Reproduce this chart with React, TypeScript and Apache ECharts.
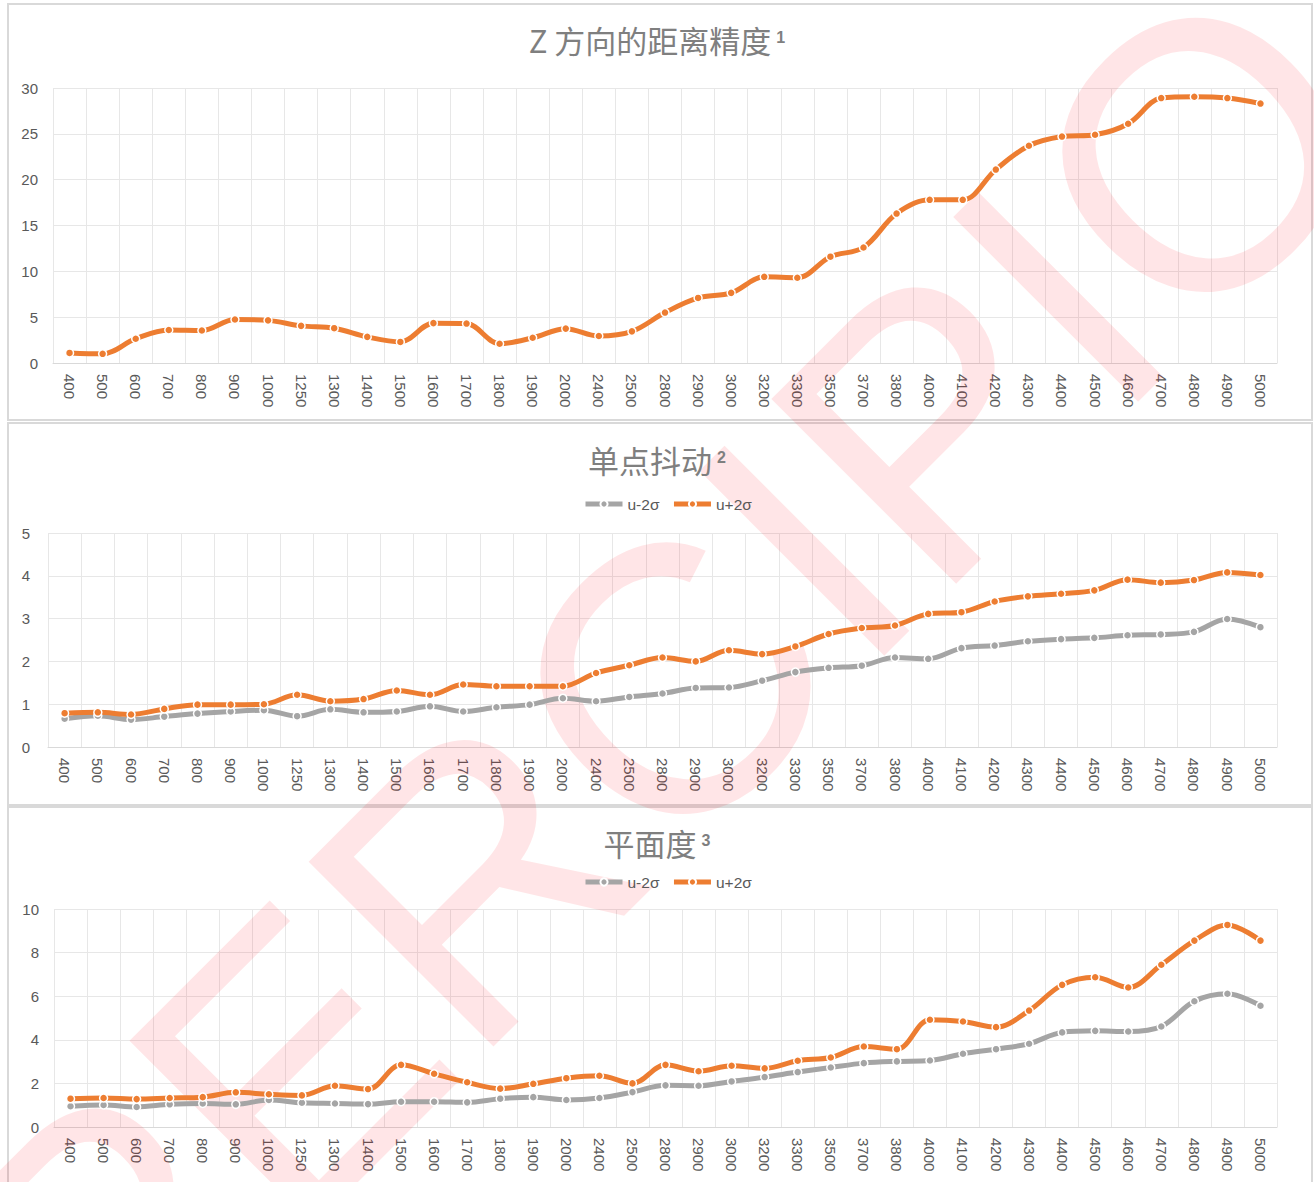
import React, { useEffect, useRef } from 'react';
import * as echarts from 'echarts';

const categories = ['400','500','600','700','800','900','1000','1250','1300','1400','1500','1600','1700','1800','1900','2000','2400','2500','2800','2900','3000','3200','3300','3500','3700','3800','4000','4100','4200','4300','4400','4500','4600','4700','4800','4900','5000'];

const zPrecision = [1.1,1.0,2.65,3.6,3.55,4.75,4.65,4.05,3.8,2.85,2.3,4.35,4.3,2.1,2.75,3.75,2.95,3.45,5.5,7.1,7.65,9.4,9.3,11.6,12.6,16.3,17.8,17.8,21.1,23.7,24.7,24.9,26.1,28.9,29.05,28.9,28.3];

const jitterLow = [0.66,0.73,0.64,0.71,0.78,0.83,0.86,0.72,0.88,0.81,0.83,0.95,0.83,0.93,0.99,1.14,1.07,1.17,1.25,1.38,1.39,1.55,1.75,1.85,1.9,2.09,2.06,2.31,2.37,2.47,2.52,2.55,2.61,2.63,2.69,2.99,2.8];
const jitterHigh = [0.79,0.81,0.76,0.89,0.99,0.99,1.0,1.22,1.07,1.12,1.32,1.22,1.46,1.42,1.42,1.42,1.73,1.91,2.09,2.0,2.26,2.17,2.35,2.64,2.78,2.84,3.11,3.15,3.4,3.52,3.58,3.66,3.91,3.84,3.9,4.08,4.02];

const flatLow = [0.95,1.01,0.92,1.04,1.08,1.04,1.24,1.11,1.08,1.05,1.16,1.16,1.13,1.3,1.37,1.24,1.33,1.6,1.91,1.89,2.09,2.29,2.52,2.73,2.93,3.01,3.05,3.36,3.57,3.82,4.34,4.41,4.38,4.61,5.77,6.11,5.56];
const flatHigh = [1.3,1.33,1.28,1.33,1.37,1.59,1.5,1.45,1.89,1.74,2.85,2.44,2.05,1.76,1.98,2.24,2.35,2.0,2.85,2.56,2.81,2.69,3.04,3.19,3.69,3.57,4.92,4.84,4.58,5.34,6.52,6.87,6.4,7.44,8.55,9.27,8.55];

const titles = ['Z 方向的距离精度', '单点抖动', '平面度'];
const titleNotes = ['1', '2', '3'];
const seriesNames = ['u-2σ', 'u+2σ'];
const yMax = [30, 5, 10];
const yStep = [5, 1, 2];
const watermark = 'PERCIPIO';

const ORANGE = '#ED7D31';
const GRAY = '#A5A5A5';
const GRID = '#e7e7e7';
const LABEL = '#595959';
const TITLE = '#7f7f7f';
const FONT = 'Liberation Sans';

export default function App() {
  const ref = useRef<HTMLDivElement>(null);
  useEffect(() => {
    const chart = echarts.init(ref.current!, null, { renderer: 'svg' });

    const grids = [
      { left: 53, top: 88, width: 1224, height: 275 },
      { left: 48, top: 533, width: 1229, height: 214 },
      { left: 54, top: 909, width: 1223, height: 218 },
    ];
    const titleTops = [20, 440, 823];
    const legendTops = [0, 491, 869];

    const xAxis = grids.map((_, i) => ({
      type: 'category',
      gridIndex: i,
      data: categories,
      boundaryGap: true,
      axisLine: { show: true, lineStyle: { color: '#d9d9d9', width: 1 } },
      axisTick: { show: false },
      splitLine: { show: true, interval: 0, lineStyle: { color: GRID, width: 1 } },
      axisLabel: { interval: 0, rotate: -90, margin: 11, color: LABEL, fontSize: 15, fontFamily: FONT },
    }));
    const yAxis = grids.map((_, i) => ({
      type: 'value',
      gridIndex: i,
      min: 0,
      max: yMax[i],
      interval: yStep[i],
      axisLine: { show: false },
      axisTick: { show: false },
      splitLine: { show: true, lineStyle: { color: GRID, width: 1 } },
      axisLabel: { color: LABEL, fontSize: 15, fontFamily: FONT, margin: i === 1 ? 18 : 15 },
    }));

    const mk = (name: string, data: number[], idx: number, color: string) => ({
      type: 'line',
      name,
      xAxisIndex: idx,
      yAxisIndex: idx,
      data,
      smooth: 0.35,
      symbol: 'circle',
      symbolSize: 8,
      lineStyle: { width: 5, color },
      itemStyle: { color, borderColor: '#ffffff', borderWidth: 1.5 },
      z: 3,
    });

    const series = [
      mk(seriesNames[1], zPrecision, 0, ORANGE),
      mk(seriesNames[0], jitterLow, 1, GRAY),
      mk(seriesNames[1], jitterHigh, 1, ORANGE),
      mk(seriesNames[0], flatLow, 2, GRAY),
      mk(seriesNames[1], flatHigh, 2, ORANGE),
    ];

    const title = titles.map((t, i) => ({
      text: `{a|${t}}{b|${titleNotes[i]}}`,
      left: 'center',
      top: titleTops[i],
      padding: 0,
      textStyle: {
        fontWeight: 'normal',
        rich: {
          a: { fontSize: 31, color: TITLE, fontFamily: 'Noto Sans CJK SC', fontWeight: 'normal', lineHeight: 38 },
          b: { fontSize: 16, color: TITLE, fontFamily: FONT, fontWeight: 'bold', verticalAlign: 'top', padding: [9, 0, 0, 5] },
        },
      },
    }));

    const legend = [1, 2].map((i) => ({
      top: legendTops[i],
      left: 578,
      data: seriesNames,
      itemWidth: 37,
      itemHeight: 9,
      itemGap: 12,
      lineStyle: { width: 5 },
      textStyle: { fontSize: 15.5, color: LABEL, fontFamily: FONT },
    }));

    const option = {
      animation: false,
      backgroundColor: '#ffffff',
      title,
      legend,
      grid: grids,
      xAxis,
      yAxis,
      series,
      graphic: [
        { type: 'rect', silent: true, z: 0, shape: { x: 8, y: 4, width: 1304, height: 416 }, style: { fill: 'none', stroke: '#d9d9d9', lineWidth: 2 } },
        { type: 'rect', silent: true, z: 0, shape: { x: 8, y: 423, width: 1304, height: 382 }, style: { fill: 'none', stroke: '#d9d9d9', lineWidth: 2 } },
        { type: 'rect', silent: true, z: 0, shape: { x: 8, y: 807, width: 1304, height: 400 }, style: { fill: 'none', stroke: '#d9d9d9', lineWidth: 2 } },
        {
          type: 'text',
          silent: true,
          z: 1,
          x: 662,
          y: 692,
          rotation: Math.PI / 4,
          style: {
            text: watermark,
            fontSize: 380,
            fontFamily: FONT,
            fill: 'rgba(255,0,20,0.1)',
            textAlign: 'center',
            textVerticalAlign: 'middle',
          },
        },
      ],
    };

    chart.setOption(option as any);
    return () => chart.dispose();
  }, []);

  return (
    <div
      ref={ref}
      style={{ position: 'absolute', left: 0, top: 0, width: 1314, height: 1182, background: '#fff' }}
    />
  );
}
